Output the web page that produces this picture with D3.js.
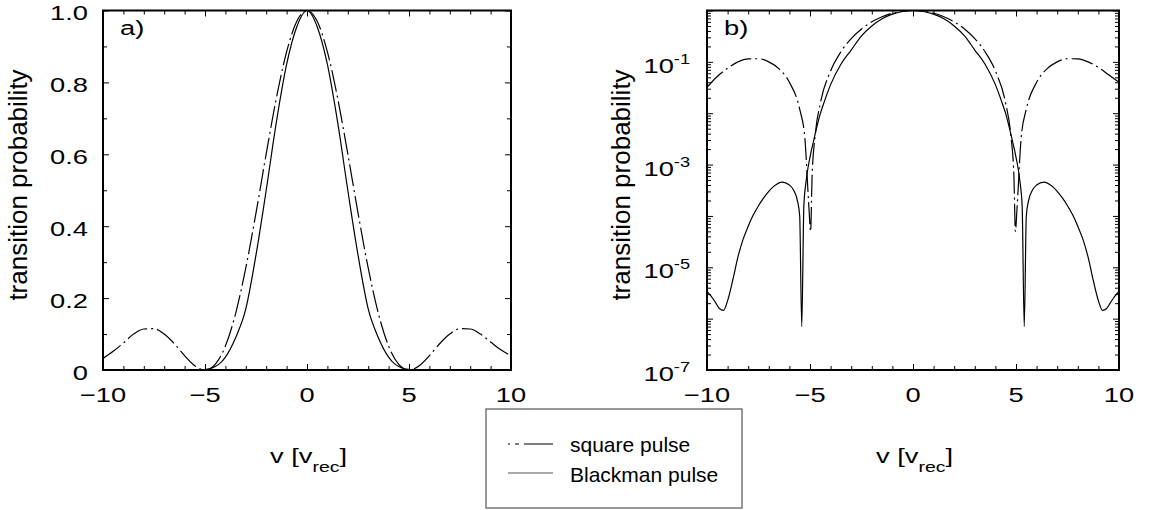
<!DOCTYPE html>
<html>
<head>
<meta charset="utf-8">
<script src="https://cdn.jsdelivr.net/npm/d3@7"></script>
<title>transition probability</title>
<style type="text/css">
    body {
        margin: 0;
        background: #fff;
    }
    text {
        font-family: "Liberation Sans", Arial, Helvetica, sans-serif;
        fill: #000;
    }
</style>
</head>
<body>

<svg id="chart" width="1153" height="510"></svg>

<script>

// values (v in units of v_rec)
var vSquare = [-10, -9.5, -9, -8.5, -8, -7.5, -7, -6.5, -6, -5.5, -5.25, -5.05, -4.97, -4.9, -4.75, -4.5,
               -4, -3.5, -3, -2.5, -2, -1.5, -1, -0.5, 0, 0.5, 1, 1.5, 2, 2.5, 3, 3.5, 4,
               4.5, 4.75, 4.9, 4.97, 5.05, 5.25, 5.5, 6, 6.5, 7, 7.5, 8, 8.5, 9, 9.5, 10];
var pSquare = [0.032, 0.052, 0.075, 0.100, 0.114, 0.115, 0.100, 0.073, 0.040, 0.012, 0.0033, 0.00014, 0.00005, 0.00057, 0.0037, 0.0155,
               0.0665, 0.157, 0.284, 0.437, 0.601, 0.757, 0.885, 0.970, 1, 0.970, 0.885, 0.757, 0.601, 0.437, 0.284, 0.157, 0.0665,
               0.0155, 0.0037, 0.00057, 0.00005, 0.00014, 0.0033, 0.012, 0.040, 0.073, 0.100, 0.115, 0.114, 0.100, 0.078, 0.056, 0.040];

var vBlackman = [-10, -9.8, -9.6, -9.4, -9.2, -9, -8.75, -8.5, -8.25, -8, -7.75, -7.5, -7.25, -7, -6.75, -6.35,
                 -6, -5.8, -5.6, -5.5, -5.4, -5.3, -5.2, -5, -4.8, -4.5, -4.3, -4, -3.5, -3, -2.5, -2, -1.5, -1, -0.5,
                 0, 0.5, 1, 1.5, 2, 2.5, 3, 3.5, 4, 4.3, 4.5, 4.8, 5, 5.2, 5.3, 5.4, 5.5, 5.6, 5.8, 6,
                 6.35, 6.75, 7, 7.25, 7.5, 7.75, 8, 8.25, 8.5, 8.75, 9, 9.2, 9.4, 9.6, 9.8, 10];
var pBlackman = [0.0000034, 0.00000275, 0.0000021, 0.00000158, 0.00000145, 0.00000224, 0.0000056, 0.0000158, 0.000035, 0.000063,
                 0.000105, 0.000158, 0.000224, 0.0003, 0.00038, 0.000457,
                 0.0004, 0.00032, 0.00019, 0.0001, 0.0000007, 0.00015, 0.00044, 0.0014, 0.0032, 0.0098, 0.017, 0.036, 0.09,
                 0.17, 0.32, 0.50, 0.69, 0.85, 0.955,
                 1, 0.955, 0.85, 0.69, 0.50, 0.32, 0.17, 0.09, 0.036, 0.017, 0.0098, 0.0032, 0.0014, 0.00044, 0.00015,
                 0.0000007, 0.0001, 0.00019, 0.00032, 0.0004,
                 0.000457, 0.00038, 0.0003, 0.000224, 0.000158, 0.000105, 0.000063, 0.000035, 0.0000158, 0.0000056,
                 0.00000224, 0.00000145, 0.00000158, 0.0000021, 0.00000275, 0.0000034];

var xLabelTicks = [-10, -5, 0, 5, 10];
var xTickLabels = ["\u221210", "\u22125", "0", "5", "10"];
var yLinTicks = [0, 0.2, 0.4, 0.6, 0.8, 1.0];
var yLinLabels = ["0", "0.2", "0.4", "0.6", "0.8", "1.0"];
var yLogLabelPowers = [-1, -3, -5, -7];
var seriesNames = ["square pulse", "Blackman pulse"];

var svg = d3.select("#chart");
var stretch = 1.3;      // the plot fonts are drawn wide
var plotTop = 10.5, plotBottom = 370;
var squareDash = "22,4,2,4";

var panels = [
    {id: "a", left: 103, right: 511, log: false, tag: "a)", titleX: 27},
    {id: "b", left: 707, right: 1119, log: true, tag: "b)", titleX: 630}
];

svg.append("rect").attr("width", 1153).attr("height", 510).attr("fill", "#fff");

function wideText(parent, x, y, anchor, size) {
    return parent.append("text")
        .attr("transform", "translate(" + x + "," + y + ") scale(" + stretch + ",1)")
        .attr("text-anchor", anchor)
        .attr("font-size", size);
}

function tickAxis(g, axisFn, scale, values, len, tx, ty) {
    g.append("g")
        .attr("transform", "translate(" + tx + "," + ty + ")")
        .call(axisFn(scale).tickValues(values).tickSize(-len).tickFormat(""))
        .call(function (s) {
            s.select(".domain").remove();
            s.selectAll("text").remove();
        });
}

function drawPanel(p) {
    var x = d3.scaleLinear().domain([-10, 10]).range([p.left, p.right]);
    var y = p.log
        ? d3.scaleLog().domain([1e-7, 1]).range([plotBottom, plotTop])
        : d3.scaleLinear().domain([0, 1]).range([plotBottom, plotTop]);

    var g = svg.append("g");

    g.append("clipPath").attr("id", "clip-" + p.id)
        .append("rect")
        .attr("x", p.left).attr("y", plotTop)
        .attr("width", p.right - p.left).attr("height", plotBottom - plotTop);

    var line = d3.line()
        .x(function (d) { return x(d[0]); })
        .y(function (d) { return y(d[1]); })
        .curve(d3.curveMonotoneX);

    g.append("path")
        .datum(d3.zip(vSquare, pSquare))
        .attr("d", line)
        .attr("fill", "none")
        .attr("stroke", "#000")
        .attr("stroke-width", 1.2)
        .attr("stroke-dasharray", squareDash)
        .attr("clip-path", "url(#clip-" + p.id + ")");

    g.append("path")
        .datum(d3.zip(vBlackman, pBlackman))
        .attr("d", line)
        .attr("fill", "none")
        .attr("stroke", "#000")
        .attr("stroke-width", 1.2)
        .attr("clip-path", "url(#clip-" + p.id + ")");

    // ticks, all pointing into the box
    var xMinor = d3.range(-10, 11).filter(function (v) { return v % 5 !== 0; });
    tickAxis(g, d3.axisBottom, x, xMinor, 4, 0, plotBottom);
    tickAxis(g, d3.axisTop, x, xMinor, 4, 0, plotTop);
    tickAxis(g, d3.axisBottom, x, xLabelTicks, 6, 0, plotBottom);
    tickAxis(g, d3.axisTop, x, xLabelTicks, 6, 0, plotTop);

    var yMajor, yMinor;
    if (p.log) {
        yMajor = d3.range(-7, 1).map(function (e) { return Math.pow(10, e); });
        yMinor = [];
        d3.range(-7, 0).forEach(function (e) {
            d3.range(2, 10).forEach(function (k) { yMinor.push(k * Math.pow(10, e)); });
        });
    } else {
        yMajor = yLinTicks;
        yMinor = [0.1, 0.3, 0.5, 0.7, 0.9];
    }
    tickAxis(g, d3.axisLeft, y, yMinor, 4, p.left, 0);
    tickAxis(g, d3.axisRight, y, yMinor, 4, p.right, 0);
    tickAxis(g, d3.axisLeft, y, yMajor, 6, p.left, 0);
    tickAxis(g, d3.axisRight, y, yMajor, 6, p.right, 0);

    g.append("rect")
        .attr("x", p.left).attr("y", plotTop)
        .attr("width", p.right - p.left).attr("height", plotBottom - plotTop)
        .attr("fill", "none")
        .attr("stroke", "#000")
        .attr("stroke-width", 2);

    // tick labels
    xLabelTicks.forEach(function (v, i) {
        wideText(g, x(v), plotBottom + 32, "middle", 21).text(xTickLabels[i]);
    });

    if (p.log) {
        yLogLabelPowers.forEach(function (e) {
            var t = wideText(g, p.left - 17, y(Math.pow(10, e)) + 11, "end", 21);
            t.append("tspan").text("10");
            t.append("tspan").attr("dy", -9).attr("font-size", 14).text("-" + (-e));
        });
    } else {
        yLinTicks.forEach(function (v, i) {
            wideText(g, p.left - 15, y(v) + 9.5, "end", 21).text(yLinLabels[i]);
        });
    }

    // panel tag
    wideText(g, p.left + 17, 35, "start", 21).text(p.tag);

    // axis titles
    var xc = (p.left + p.right) / 2;
    var xt = wideText(g, xc - 37, 463, "start", 21);
    xt.append("tspan").text("v [v");
    xt.append("tspan").attr("dy", 9).attr("font-size", 15).text("rec");
    xt.append("tspan").attr("dy", -9).text("]");

    g.append("text")
        .attr("transform", "translate(" + p.titleX + ",185) rotate(-90)")
        .attr("text-anchor", "middle")
        .attr("font-size", 26)
        .text("transition probability");
}

panels.forEach(drawPanel);

// legend box between the panels
var legend = svg.append("g");
legend.append("rect")
    .attr("x", 486).attr("y", 409)
    .attr("width", 256).attr("height", 99)
    .attr("fill", "#fff")
    .attr("stroke", "#555")
    .attr("stroke-width", 1.2);

seriesNames.forEach(function (name, i) {
    var ly = 444 + i * 29;
    legend.append("line")
        .attr("x1", 508).attr("x2", 553)
        .attr("y1", ly).attr("y2", ly)
        .attr("stroke", i === 0 ? "#000" : "#555")
        .attr("stroke-width", 1.2)
        .attr("stroke-dasharray", i === 0 ? "2,5,4,5,40" : null);
    legend.append("text")
        .attr("x", 570).attr("y", 452 + i * 30)
        .attr("font-size", 21)
        .text(name);
});

</script>

</body>
</html>
